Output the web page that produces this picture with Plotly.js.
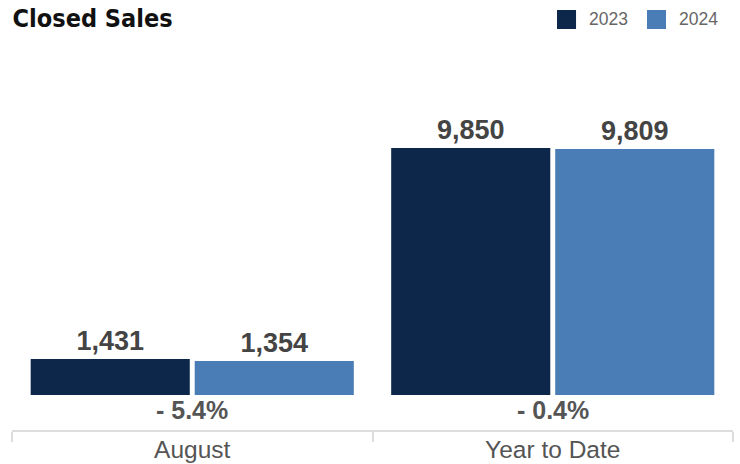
<!DOCTYPE html>
<html>
<head>
<meta charset="utf-8">
<script src="https://cdn.plot.ly/plotly-3.0.1.min.js"></script>
<style>html,body{margin:0;padding:0;background:#fff;}#chart{width:740px;height:464px;}</style>
</head>
<body>
<div id="chart"></div>
<script>
var categories = ["August", "Year to Date"];
var seriesNames = ["2023", "2024"];
var values2023 = [1431, 9850];
var values2024 = [1354, 9809];
var changeLabels = ["- 5.4%", "- 0.4%"];
var colors = ["#0c2749", "#4a7db5"];

function fmt(v){ return v.toLocaleString("en-US"); }

var FONT = "Liberation Sans, Arial, sans-serif";

var traces = [values2023, values2024].map(function(vals, i){
  return {
    type: "bar",
    name: seriesNames[i],
    x: categories,
    y: vals,
    marker: {color: colors[i]},
    text: vals.map(fmt),
    textposition: "outside",
    textfont: {family: FONT, size: 27, color: "#444"},
    texttemplate: "<b>%{text}</b>",
    cliponaxis: false,
    hoverinfo: "skip",
    showlegend: false
  };
});

var annotations = categories.map(function(c, i){
  return {
    x: c, y: 0, xref: "x", yref: "y",
    yanchor: "top", yshift: 1,
    text: "<b>" + changeLabels[i] + "</b>",
    showarrow: false,
    font: {family: FONT, size: 25, color: "#555"}
  };
});

// manual legend (squares + labels) positioned in paper coordinates
var legendX = [0.7559, 0.8807];
var shapes = [];
seriesNames.forEach(function(n, i){
  shapes.push({
    type: "rect", xref: "paper", yref: "paper",
    x0: legendX[i], x1: legendX[i] + 0.0264,
    y0: 1.0838, y1: 1.1351,
    fillcolor: colors[i], line: {width: 0}
  });
  annotations.push({
    xref: "paper", yref: "paper",
    x: legendX[i] + 0.0416, y: 1.1095,
    xanchor: "left", yanchor: "middle",
    text: n, showarrow: false,
    font: {family: FONT, size: 17.5, color: "#666"}
  });
});

var layout = {
  width: 740, height: 464,
  margin: {l: 12, r: 7, t: 60, b: 34},
  paper_bgcolor: "#fff", plot_bgcolor: "#fff",
  barmode: "group",
  bargap: 0.09,
  bargroupgap: 0.03,
  showlegend: false,
  title: {
    text: "<b>Closed Sales</b>",
    xref: "container", x: 0.017, xanchor: "left",
    yref: "container", y: 0.96, yanchor: "middle",
    font: {family: "DejaVu Sans Condensed, DejaVu Sans, sans-serif", size: 25, color: "#111"}
  },
  xaxis: {
    type: "category",
    showline: true, linecolor: "#dddddd", linewidth: 2,
    ticks: "outside", tickson: "boundaries", ticklen: 10, tickcolor: "#dddddd", tickwidth: 2,
    ticklabelstandoff: -3,
    tickfont: {family: FONT, size: 24.5, color: "#555"},
    showgrid: false, zeroline: false, fixedrange: true
  },
  yaxis: {
    range: [-1396, 13359],
    visible: false, showgrid: false, zeroline: false, fixedrange: true
  },
  shapes: shapes,
  annotations: annotations
};

Plotly.newPlot("chart", traces, layout, {displayModeBar: false, staticPlot: true});
</script>
</body>
</html>
